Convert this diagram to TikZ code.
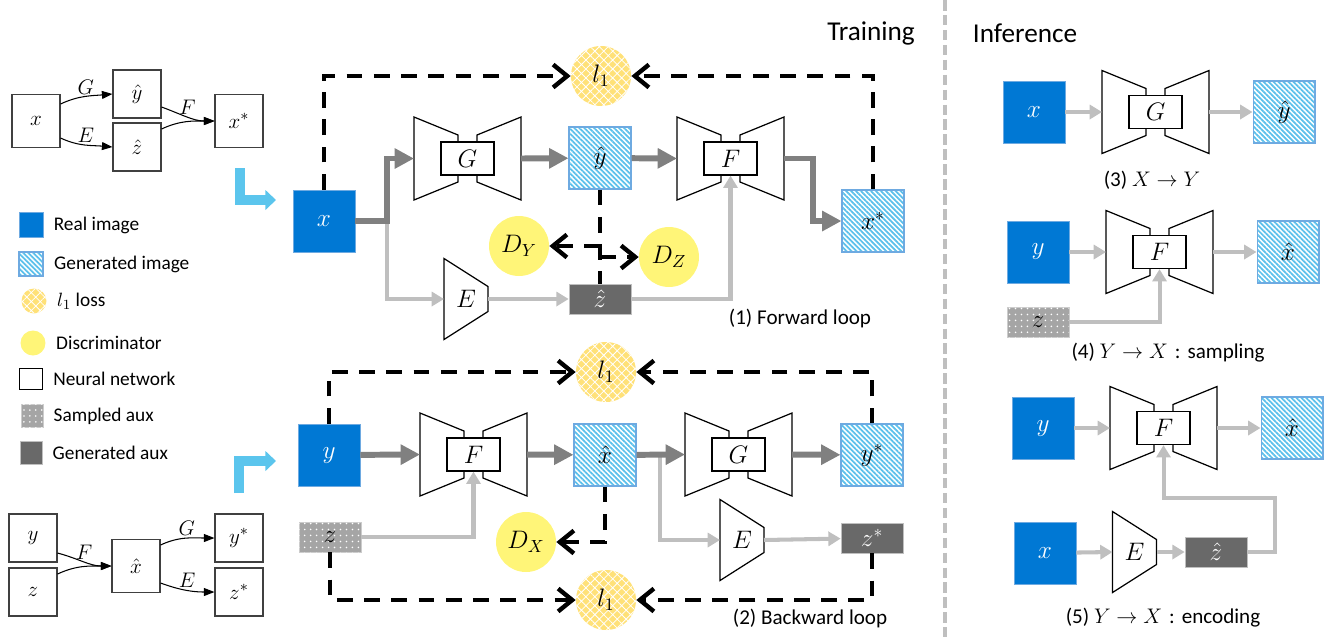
\documentclass[tikz,border=0pt]{standalone}
\usepackage{fontspec}
\setmainfont{Carlito}
\usetikzlibrary{arrows.meta,patterns.meta,positioning,calc}

\definecolor{realblue}{RGB}{0,120,212}
\definecolor{hatchblue}{RGB}{91,192,235}
\definecolor{edgeblue}{RGB}{110,170,225}
\definecolor{lossyellow}{RGB}{255,225,120}
\definecolor{discyellow}{RGB}{255,245,120}
\definecolor{auxdark}{RGB}{105,105,105}
\definecolor{auxlight}{RGB}{165,165,165}
\definecolor{pathdark}{RGB}{128,128,128}
\definecolor{pathlight}{RGB}{191,191,191}
\definecolor{turnblue}{RGB}{91,197,237}

\tikzset{
  img/.style={minimum width=1.24cm, minimum height=1.24cm, inner sep=0pt, font=\fontsize{14}{16}\selectfont},
  real/.style={img, fill=realblue, draw=edgeblue, line width=0.5pt, text=white},
  fake/.style={img, draw=edgeblue, line width=0.6pt, pattern={Lines[angle=-45,distance=2pt,line width=1pt]}, pattern color=hatchblue},
  genaux/.style={img, minimum height=0.6cm, fill=auxdark, draw=black!25, text=white},
  sampaux/.style={img, minimum height=0.6cm, fill=auxlight, draw=black!20, postaction={pattern={Dots[radius=0.5pt,distance=3.4pt]}, pattern color=white}},
  loss/.style={circle, minimum size=1.2cm, inner sep=0pt, fill=lossyellow, postaction={pattern={Hatch[angle=45,distance=3.6pt,line width=0.45pt]}, pattern color=white}, font=\fontsize{14}{16}\selectfont},
  disc/.style={circle, minimum size=1.2cm, inner sep=0pt, fill=discyellow, font=\fontsize{14}{16}\selectfont},
  netline/.style={line width=0.7pt, line join=miter},
  netbox/.style={draw, line width=0.7pt, fill=white, minimum width=1.06cm, minimum height=0.66cm, inner sep=0pt, font=\fontsize{14}{16}\selectfont},
  mainpath/.style={draw=pathdark, line width=3.4pt, -{Triangle[length=11pt,width=11pt]}},
  sidepath/.style={draw=pathlight, line width=2.3pt, -{Triangle[length=7pt,width=8pt]}},
  lossline/.style={line width=2.5pt, dash pattern=on 9pt off 6.5pt, -{Straight Barb[length=8pt,width=13pt]}},
  minibox/.style={draw=black!75, line width=0.6pt, minimum width=0.96cm, minimum height=0.96cm, inner sep=0pt, font=\fontsize{13}{15}\selectfont},
  tall/.style={minimum height=1.06cm},
  minilink/.style={line width=0.6pt, -{Triangle[length=6pt,width=4.5pt]}},
  minilabel/.style={font=\fontsize{12}{14}\selectfont, inner sep=1pt},
  legtext/.style={font=\fontsize{11}{13}\selectfont, inner sep=0pt},
  caption/.style={font=\fontsize{12}{14}\selectfont, inner sep=0pt},
  title/.style={font=\fontsize{15.5}{18}\selectfont, inner sep=0pt},
  turn/.style={draw=turnblue, line width=6pt, -{Triangle[length=6pt,width=11pt]}},
  divider/.style={draw=pathlight, line width=2.3pt, dash pattern=on 6pt off 2.5pt},
  % generator / mapping network with its code in the middle
  pics/bowtie/.style={code={
    \draw[netline] (-53.5,-41.5) -- (-9.5,-23.5) -- (-9.5,23.5) -- (-53.5,41.5) -- cycle;
    \draw[netline] (53.5,-41.5) -- (9.5,-23.5) -- (9.5,23.5) -- (53.5,41.5) -- cycle;
    \node[netbox] (-box) at (0,0) {$#1$};
    \coordinate (-in) at (-53.5,0);
    \coordinate (-out) at (53.5,0);
  }},
  % encoder
  pics/encoder/.style={code={
    \draw[netline] (-22,-40.5) -- (22,-12.5) -- (22,12.5) -- (-22,40.5) -- cycle;
    \node[font=\fontsize{14}{16}\selectfont] (-lbl) at (0,0) {$E$};
    \coordinate (-in) at (-22,0);
    \coordinate (-out) at (22,0);
  }}
}

\begin{document}
\begin{tikzpicture}[x=0.02cm,y=-0.02cm]
\useasboundingbox (0,0) rectangle (1337,637);

%% small graph: x -> (y^, z^) -> x*
\node[minibox, tall] (mx) at (36,121) {$x$};
\node[minibox] (myh) at (137,94) {$\hat{y}$};
\node[minibox] (mzh) at (137,147) {$\hat{z}$};
\node[minibox, tall] (mxs) at (239,121) {$x^{*}$};
\draw[minilink] ([yshift=0.34cm]mx.east) to[out=25,in=185] node[minilabel, above] (mlg) {$G$} (myh.west);
\draw[minilink] ([yshift=-0.34cm]mx.east) to[out=-25,in=175] node[minilabel, above] (mle) {$E$} (mzh.west);
\draw[minilink] ([yshift=-0.26cm]myh.east) to[out=-20,in=180] node[minilabel, above] (mlf) {$F$} (mxs.west);
\draw[minilink] ([yshift=0.36cm]mzh.east) to[out=25,in=180] (mxs.west);

%% small graph: (y, z) -> x^ -> (y*, z*)
\node[minibox] (my) at (33,538) {$y$};
\node[minibox] (mz) at (33,592) {$z$};
\node[minibox, tall] (mxh) at (136,566) {$\hat{x}$};
\node[minibox] (mys) at (239,538) {$y^{*}$};
\node[minibox] (mzs) at (239,592) {$z^{*}$};
\draw[minilink] ([yshift=-0.3cm]my.east) to[out=-15,in=180] node[minilabel, above] (mlf2) {$F$} (mxh.west);
\draw[minilink] ([yshift=0.36cm]mz.east) to[out=25,in=180] (mxh.west);
\draw[minilink] ([yshift=0.42cm]mxh.east) to[out=25,in=180] node[minilabel, above] (mlg2) {$G$} (mys.west);
\draw[minilink] ([yshift=-0.34cm]mxh.east) to[out=-20,in=180] node[minilabel, above] (mle2) {$E$} (mzs.west);

% turn arrows into the loops
\draw[turn] (240,168) |- (276,200);
\draw[turn] (239,493) |- (276,461);

%% legend
\node[real, minimum width=0.48cm, minimum height=0.5cm] (lgreal) at (31,225) {};
\node[legtext, right=0.2cm of lgreal] (lgrealt) {Real image};
\node[fake, minimum width=0.48cm, minimum height=0.48cm] (lgfake) at (31,264) {};
\node[legtext, right=0.2cm of lgfake] (lgfaket) {Generated image};
\node[loss, minimum size=0.5cm] (lgloss) at (34,301) {};
\node[legtext, right=0.2cm of lgloss] (lglosst) {$l_1$ loss};
\node[disc, minimum size=0.5cm] (lgdisc) at (33,343) {};
\node[legtext, right=0.2cm of lgdisc] (lgdisct) {Discriminator};
\node[draw, line width=0.6pt, minimum width=0.46cm, minimum height=0.42cm, inner sep=0pt] (lgnet) at (31,379) {};
\node[legtext, right=0.2cm of lgnet] (lgnett) {Neural network};
\node[sampaux, minimum width=0.44cm, minimum height=0.46cm] (lgsamp) at (32,416) {};
\node[legtext, right=0.2cm of lgsamp] (lgsampt) {Sampled aux};
\node[genaux, minimum width=0.44cm, minimum height=0.46cm] (lgaux) at (31,453) {};
\node[legtext, right=0.2cm of lgaux] (lgauxt) {Generated aux};

%% (1) forward loop
\node[title] (train) at (871,33) {Training};
\node[real] (xa) at (324,221) {$x$};
\pic (Ga) at (467.5,158.5) {bowtie=G};
\node[fake] (yhat) at (600,158) {$\hat{y}$};
\pic (Fa) at (730.5,158.5) {bowtie=F};
\node[fake] (xstar) at (873,221) {$x^{*}$};
\pic (Ea) at (466,299) {encoder};
\node[genaux] (zhat) at (600,299) {$\hat{z}$};
\node[loss] (lossa) at (601,76) {$l_1$};
\node[disc] (dy) at (519,246) {$D_Y$};
\node[disc] (dz) at (669,257) {$D_Z$};
\coordinate (splita) at ($(xa.east)+(32,0)$);
\coordinate (turna) at ($(Fa-out)+(29,0)$);
\draw[sidepath] (splita) |- (Ea-in);
\draw[mainpath] (xa.east) -- (splita) |- (Ga-in);
\draw[sidepath] (Ea-out) -- (zhat);
\draw[mainpath] (Ga-out) -- (yhat);
\draw[mainpath] (yhat) -- (Fa-in);
\draw[sidepath] (zhat) -| (Fa-box);
\draw[mainpath] (Fa-out) -- (turna) |- (xstar);
\draw[lossline] (xa) |- (lossa);
\draw[lossline] (xstar) |- (lossa);
\draw[lossline, -] (yhat) -- (zhat);
\draw[lossline] (yhat.south |- dy) -- (dy);
\draw[lossline] (yhat.south |- dz) -- (dz);
\node[caption] (capa) at (800,318) {(1) Forward loop};

%% (2) backward loop
\node[real] (yb) at (329,455) {$y$};
\pic (Fb) at (473.5,454.5) {bowtie=F};
\node[fake] (xhat) at (605,455) {$\hat{x}$};
\pic (Gb) at (738.5,454.5) {bowtie=G};
\node[fake] (ystar) at (872,455) {$y^{*}$};
\node[sampaux] (zb) at (330,537) {$z$};
\pic (Eb) at (742,540) {encoder};
\node[genaux] (zstar) at (872,538) {$z^{*}$};
\node[loss] (lossb) at (606,372) {$l_1$};
\node[loss] (lossc) at (606,600) {$l_1$};
\node[disc] (dx) at (526,542) {$D_X$};
\coordinate (splitb) at ($(xhat.east)+(23,0)$);
\draw[mainpath] (yb) -- (Fb-in);
\draw[sidepath] (zb) -| (Fb-box);
\draw[mainpath] (Fb-out) -- (xhat);
\draw[sidepath] (splitb) |- (Eb-in);
\draw[mainpath] (xhat) -- (Gb-in);
\draw[mainpath] (Gb-out) -- (ystar);
\draw[sidepath] (Eb-out) -- (zstar);
\draw[lossline] (yb) |- (lossb);
\draw[lossline] (ystar) |- (lossb);
\draw[lossline] (zb) |- (lossc);
\draw[lossline] (zstar) |- (lossc);
\draw[lossline] (xhat) |- (dx);
\node[caption] (capb) at (810,618) {(2) Backward loop};

\draw[divider] (945,0) -- (945,637);

%% inference
\node[title] (infer) at (1025,33) {Inference};
% (3)
\node[real] (xc) at (1034,112) {$x$};
\pic (Gc) at (1155.5,112) {bowtie=G};
\node[fake] (yc) at (1284,112) {$\hat{y}$};
\draw[sidepath] (xc) -- (Gc-in);
\draw[sidepath] (Gc-out) -- (yc);
\node[caption] (capc) at (1152,180) {(3) $X \rightarrow Y$};
% (4)
\node[real] (yd) at (1038,252) {$y$};
\pic (Fd) at (1159.5,252) {bowtie=F};
\node[fake] (xd) at (1288,252) {$\hat{x}$};
\node[sampaux] (zd) at (1038,322) {$z$};
\draw[sidepath] (yd) -- (Fd-in);
\draw[sidepath] (Fd-out) -- (xd);
\draw[sidepath] (zd) -| (Fd-box);
\node[caption] (capd) at (1168,353) {(4) $Y \rightarrow X$\,\,:\,\,sampling};
% (5)
\node[real] (ye) at (1043,428) {$y$};
\pic (Fe) at (1163.5,428) {bowtie=F};
\node[fake] (xe) at (1292,428) {$\hat{x}$};
\node[real] (xf) at (1045,553) {$x$};
\pic (Ee) at (1134.5,552) {encoder};
\node[genaux] (ze) at (1216,552) {$\hat{z}$};
\coordinate (turne) at (1275,498);
\draw[sidepath] (ye) -- (Fe-in);
\draw[sidepath] (Fe-out) -- (xe);
\draw[sidepath] (xf) -- (Ee-in);
\draw[sidepath] (Ee-out) -- (ze);
\draw[sidepath] (ze) -| (turne) -| (Fe-box);
\node[caption] (cape) at (1163,618) {(5) $Y \rightarrow X$\,\,:\,\,encoding};
\end{tikzpicture}
\end{document}
